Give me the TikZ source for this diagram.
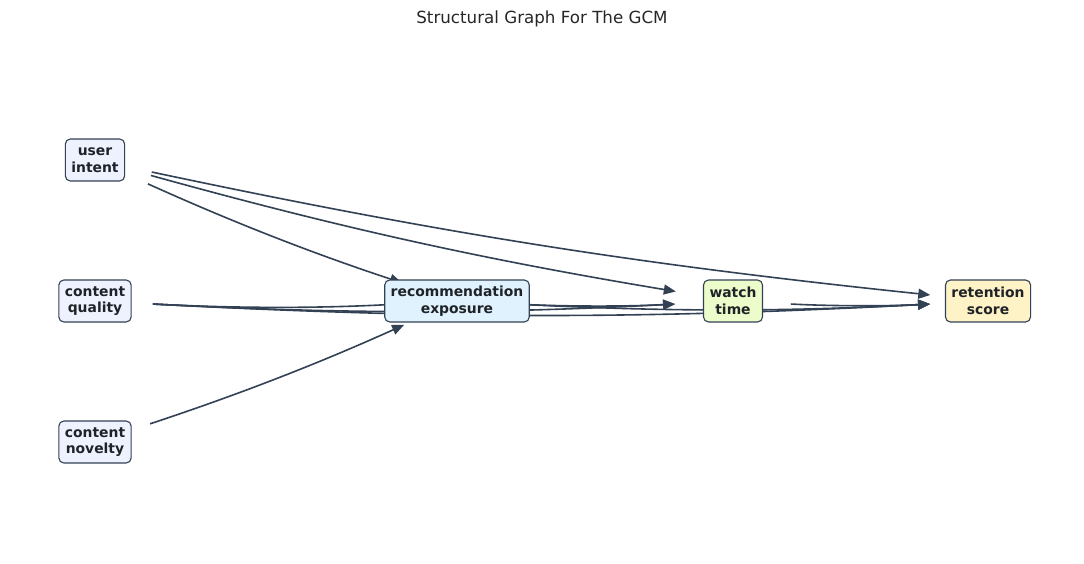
\documentclass[tikz,border=0pt]{standalone}
\usepackage{fontspec}
\setmainfont{DejaVu Sans}
\usetikzlibrary{arrows.meta,backgrounds}
\definecolor{edgec}{HTML}{334155}
\definecolor{txtc}{HTML}{1F2328}
\definecolor{titlec}{HTML}{262626}
\definecolor{fillin}{HTML}{EEF2FF}
\definecolor{fillrec}{HTML}{E0F2FE}
\definecolor{fillwt}{HTML}{ECFCCB}
\definecolor{fillrs}{HTML}{FEF3C7}
\tikzset{
  gnode/.style={draw=edgec, line width=1.1pt, rounded corners=5pt, align=center,
    inner xsep=6pt, inner ysep=0pt, minimum height=42pt, text=txtc,
    font=\fontsize{13.9}{16.7}\selectfont\bfseries},
  edge/.style={draw=edgec, line width=1.6pt, -{Triangle[length=12pt,width=10pt]},
    shorten >=58pt, shorten <=58pt},
  bnd/.style={bend right=3}
}
\begin{document}
\begin{tikzpicture}[x=1pt,y=1pt]
\useasboundingbox (0,0) rectangle (1084,-564);
\node[font=\fontsize{16.7}{20}\selectfont, text=titlec] (title) at (542,-19) {Structural Graph For The GCM};
\node[gnode, fill=fillin] (ui) at (95,-160) {user\\intent};
\node[gnode, fill=fillin] (cq) at (95,-301) {content\\quality};
\node[gnode, fill=fillin] (cn) at (95,-442) {content\\novelty};
\node[gnode, fill=fillrec] (rec) at (457,-301) {recommendation\\exposure};
\node[gnode, fill=fillwt] (wt) at (733,-301) {watch\\time};
\node[gnode, fill=fillrs] (rs) at (988,-301) {retention\\score};
\begin{scope}[on background layer]
\draw[edge] (ui.center) to[bnd] (rec.center);
\draw[edge] (ui.center) to[bnd] (wt.center);
\draw[edge] (ui.center) to[bnd] (rs.center);
\draw[edge] (cq.center) to[bnd] (rec.center);
\draw[edge] (cq.center) to[bnd] (wt.center);
\draw[edge] (cq.center) to[bnd] (rs.center);
\draw[edge] (cn.center) to[bnd] (rec.center);
\draw[edge] (rec.center) to[bnd] (wt.center);
\draw[edge] (rec.center) to[bnd] (rs.center);
\draw[edge] (wt.center) to[bnd] (rs.center);
\end{scope}
\end{tikzpicture}
\end{document}
